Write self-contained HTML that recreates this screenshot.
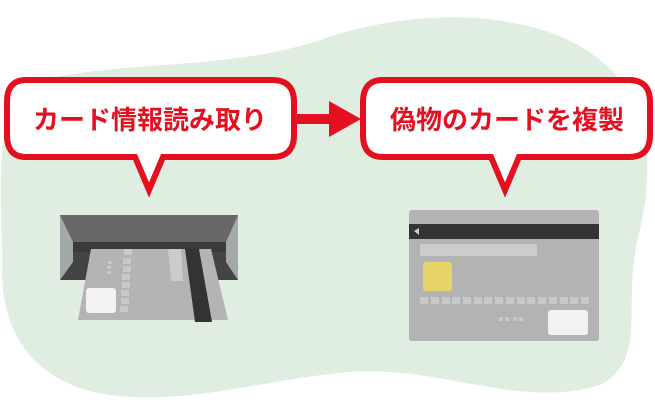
<!DOCTYPE html>
<html><head><meta charset="utf-8"><style>
html,body{margin:0;padding:0;background:#fff;width:655px;height:414px;overflow:hidden}
.t{font-family:"Liberation Sans","Noto Sans CJK JP",sans-serif;font-weight:bold;font-size:26px;fill:#e5101f}
</style></head><body>
<svg width="655" height="414" viewBox="0 0 655 414" xmlns="http://www.w3.org/2000/svg">
<path d="M40,80 C130,60 230,70 320,40 C420,5 540,10 600,60 C650,100 655,160 640,230 C620,300 650,360 600,385 C520,410 440,365 350,372 C260,380 190,405 110,395 C40,385 2,340 2,270 C2,190 -10,95 40,80 Z" fill="#dfeee0"/>
<path d="M26,80 H272 Q294,80 294,102 V135 Q294,157 272,157 H163 L149,190 L135,157 H26 Q7,157 7,135 V102 Q7,80 26,80 Z" fill="#fff" stroke="#e5101f" stroke-width="6" stroke-linejoin="miter"/>
<text class="t" x="150" y="129" text-anchor="middle">カード情報読み取り</text>
<rect x="296" y="114" width="36" height="10" fill="#e5101f"/>
<polygon points="329,101 361,119 329,137" fill="#e5101f"/>
<path d="M383,80 H629 Q650,80 650,102 V135 Q650,157 629,157 H519 L505,190 L491,157 H383 Q363,157 363,135 V102 Q363,80 383,80 Z" fill="#fff" stroke="#e5101f" stroke-width="6"/>
<text class="t" x="507" y="129" text-anchor="middle">偽物のカードを複製</text>
<rect x="60" y="215" width="178" height="65" fill="#444"/>
<polygon points="60,215 238,215 226,242 73,242" fill="#686868"/>
<polygon points="60,215 73,242 73,262 60,280" fill="#a2a9a6"/>
<polygon points="238,215 226,242 226,262 238,280" fill="#a2a9a6"/>
<rect x="73" y="242" width="153" height="10" fill="#3a3a3a"/>
<polygon points="91,249 211,249 228,320 78,320" fill="#b4b4b4"/>
<polygon points="185,249 199,249 212,322 195,322" fill="#333"/>
<polygon points="168,249 181,249 183,281 171,281" fill="#cccccc"/>
<rect x="86" y="288" width="30" height="25" rx="3" fill="#f2f2f2"/>
<g fill="#c8c8c8"><rect x="124" y="249" width="8" height="6"/><rect x="123" y="258" width="8" height="6"/><rect x="123" y="266" width="8" height="6"/><rect x="122" y="274" width="8" height="6"/><rect x="122" y="282" width="8" height="6"/><rect x="121" y="290" width="8" height="6"/><rect x="121" y="298" width="8" height="6"/><rect x="120" y="306" width="8" height="6"/>
<rect x="108" y="261" width="4" height="3"/><rect x="107" y="266" width="4" height="3"/><rect x="107" y="271" width="4" height="3"/></g>
<rect x="409" y="210" width="190" height="131" rx="3" fill="#b3b3b3"/>
<rect x="409" y="224" width="190" height="15" fill="#333"/>
<polygon points="414,231 419,228 419,235" fill="#ccc"/>
<rect x="420" y="244" width="117" height="12" fill="#cccccc"/>
<rect x="423" y="262" width="29" height="29" rx="3" fill="#e6d468"/>
<g fill="#c8c8c8">
<rect x="420" y="297" width="8" height="7"/><rect x="431" y="297" width="8" height="7"/><rect x="442" y="297" width="8" height="7"/><rect x="452" y="297" width="8" height="7"/>
<rect x="463" y="297" width="8" height="7"/><rect x="474" y="297" width="8" height="7"/><rect x="484" y="297" width="8" height="7"/><rect x="495" y="297" width="8" height="7"/>
<rect x="506" y="297" width="8" height="7"/><rect x="517" y="297" width="8" height="7"/><rect x="527" y="297" width="8" height="7"/><rect x="538" y="297" width="8" height="7"/>
<rect x="549" y="297" width="8" height="7"/><rect x="560" y="297" width="8" height="7"/><rect x="570" y="297" width="8" height="7"/><rect x="581" y="297" width="8" height="7"/>
<rect x="499" y="317" width="4" height="4"/><rect x="505" y="317" width="4" height="4"/><rect x="513" y="317" width="4" height="4"/><rect x="519" y="317" width="4" height="4"/></g>
<rect x="548" y="310" width="40" height="25" rx="3" fill="#f2f2f2"/>
</svg>
</body></html>
